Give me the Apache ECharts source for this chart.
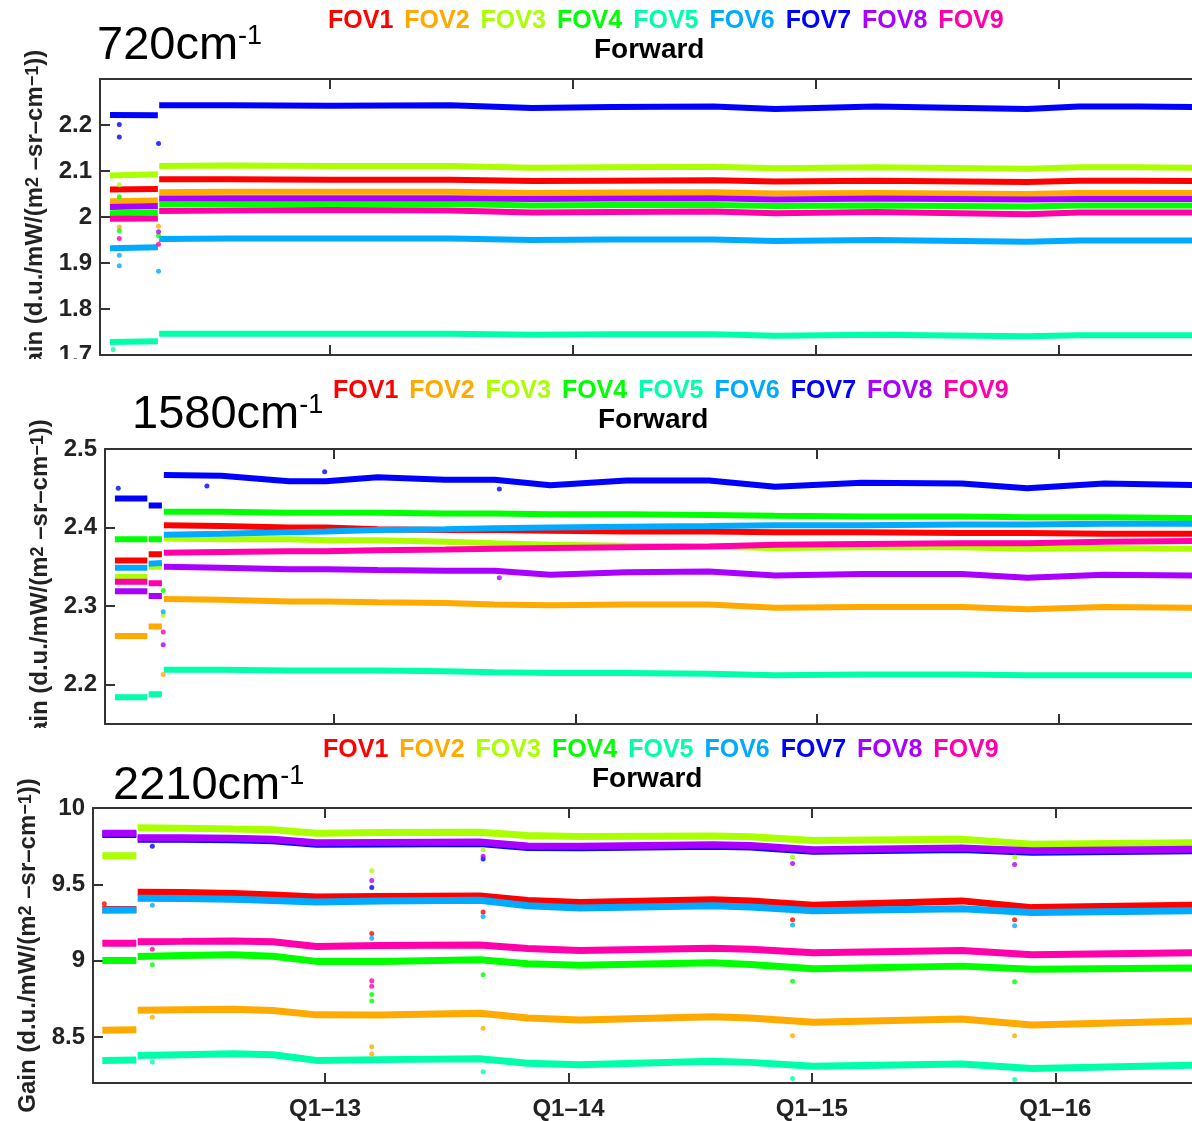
<!DOCTYPE html>
<html><head><meta charset="utf-8">
<script src="https://cdn.jsdelivr.net/npm/echarts@6/dist/echarts.min.js"></script>
<style>
html,body{margin:0;padding:0;background:#fff;width:1192px;height:1121px;overflow:hidden;}
.wrap{position:absolute;left:0;width:1192px;overflow:hidden;}
.chart{position:absolute;left:0;width:1192px;height:1121px;}
</style></head><body>
<div class="wrap" style="top:0;height:359px"><div id="c1" class="chart" style="top:0"></div></div>
<div class="wrap" style="top:359px;height:369px"><div id="c2" class="chart" style="top:-359px"></div></div>
<div class="wrap" style="top:728px;height:393px"><div id="c3" class="chart" style="top:-728px"></div></div>
<script>
const fovNames = ['FOV1','FOV2','FOV3','FOV4','FOV5','FOV6','FOV7','FOV8','FOV9'];
const fovColors = ['#ff0000','#ffaa00','#aaff00','#00ff00','#00ffaa','#00aaff','#0000ff','#aa00ff','#ff00aa'];
const xTickDates = ['2013-01-01','2014-01-01','2015-01-01','2016-01-01'];
const xTickLabels = ['Q1\u201313','Q1\u201314','Q1\u201315','Q1\u201316'];
const subTitle = 'Forward';
const yAxisTitle = 'Gain (d.u./mW/(m{s|2} \u2013sr\u2013cm{s|\u22121}))';

// ---- Panel 1 : 720 cm-1 ----
const p1Band = '720';
const p1YTicks = [1.7, 1.8, 1.9, 2, 2.1, 2.2];
const p1Dates = ['2012-02-05','2012-04-17','2012-04-18','2012-04-19','2012-08-01','2013-01-01','2013-07-01','2013-11-01','2014-03-01','2014-08-01','2014-11-01','2015-04-01','2015-11-15','2016-02-01','2016-05-01','2016-07-25'];
const p1Gain = [
  [2.060,2.061,null,2.082,2.082,2.081,2.081,2.078,2.079,2.080,2.077,2.079,2.076,2.079,2.079,2.078],
  [2.034,2.036,null,2.054,2.055,2.055,2.055,2.052,2.053,2.054,2.051,2.052,2.050,2.052,2.052,2.052],
  [2.090,2.093,null,2.111,2.112,2.111,2.111,2.107,2.108,2.109,2.106,2.108,2.105,2.108,2.108,2.107],
  [2.008,2.010,null,2.027,2.028,2.028,2.028,2.025,2.026,2.026,2.024,2.025,2.023,2.025,2.025,2.025],
  [1.728,1.730,null,1.746,1.746,1.746,1.746,1.744,1.745,1.745,1.742,1.744,1.741,1.743,1.743,1.743],
  [1.932,1.934,null,1.952,1.953,1.953,1.953,1.950,1.951,1.951,1.948,1.950,1.946,1.949,1.949,1.949],
  [2.222,2.221,null,2.243,2.243,2.242,2.243,2.237,2.239,2.240,2.235,2.240,2.235,2.240,2.240,2.239],
  [2.022,2.024,null,2.040,2.041,2.041,2.041,2.039,2.040,2.041,2.038,2.040,2.038,2.039,2.039,2.039],
  [1.996,1.997,null,2.013,2.014,2.015,2.014,2.010,2.011,2.012,2.008,2.011,2.006,2.010,2.010,2.010]
];
const p1Outliers = [
  ['2012-02-19',2.201,7],['2012-02-19',2.174,7],['2012-02-19',1.917,6],['2012-02-19',1.894,6],
  ['2012-02-19',2.070,3],['2012-02-19',2.044,4],['2012-02-19',1.978,2],['2012-02-19',1.970,4],
  ['2012-02-19',1.953,9],['2012-02-10',1.712,5],
  ['2012-04-18',2.160,7],['2012-04-18',1.882,6],['2012-04-18',1.980,2],['2012-04-18',1.968,8],
  ['2012-04-18',1.959,4],['2012-04-18',1.941,9]
];

// ---- Panel 2 : 1580 cm-1 ----
const p2Band = '1580';
const p2YTicks = [2.2, 2.3, 2.4, 2.5];
const p2Dates = ['2012-02-05','2012-03-25','2012-03-26','2012-03-27','2012-04-16','2012-04-17','2012-04-19','2012-07-15','2012-10-25','2012-12-20','2013-03-08','2013-06-18','2013-09-01','2013-11-24','2014-03-19','2014-07-22','2014-10-30','2015-03-10','2015-08-08','2015-11-15','2016-03-10','2016-07-25'];
const p2Gain = [
  [2.358,2.358,null,2.366,2.366,null,2.403,2.402,2.400,2.400,2.398,2.397,2.397,2.396,2.395,2.395,2.394,2.394,2.393,2.393,2.392,2.392],
  [2.262,2.262,null,2.274,2.274,null,2.309,2.308,2.306,2.306,2.305,2.304,2.302,2.301,2.302,2.302,2.298,2.299,2.299,2.296,2.299,2.298],
  [2.337,2.337,null,2.350,2.350,null,2.386,2.385,2.385,2.384,2.384,2.382,2.380,2.378,2.377,2.376,2.374,2.375,2.375,2.373,2.374,2.373],
  [2.385,2.385,null,2.385,2.385,null,2.420,2.420,2.419,2.419,2.419,2.418,2.418,2.417,2.417,2.416,2.415,2.414,2.414,2.413,2.413,2.412],
  [2.184,2.184,null,2.188,2.188,null,2.219,2.219,2.218,2.218,2.218,2.217,2.216,2.215,2.215,2.214,2.212,2.213,2.213,2.212,2.212,2.212],
  [2.349,2.349,null,2.354,2.355,null,2.391,2.392,2.394,2.395,2.397,2.398,2.399,2.400,2.401,2.402,2.403,2.403,2.404,2.404,2.405,2.405],
  [2.437,2.437,null,2.428,2.428,null,2.467,2.466,2.459,2.459,2.464,2.461,2.461,2.454,2.460,2.460,2.452,2.457,2.456,2.450,2.456,2.454],
  [2.319,2.319,null,2.313,2.313,null,2.350,2.349,2.347,2.347,2.346,2.345,2.345,2.340,2.343,2.344,2.339,2.341,2.341,2.336,2.340,2.339],
  [2.331,2.331,null,2.329,2.329,null,2.368,2.369,2.370,2.370,2.371,2.372,2.373,2.374,2.375,2.376,2.378,2.379,2.380,2.380,2.382,2.383]
];
const p2Outliers = [
  ['2012-02-10',2.450,7],['2012-04-18',2.320,4],['2012-04-18',2.293,6],['2012-04-18',2.288,3],
  ['2012-04-18',2.267,9],['2012-04-18',2.251,8],['2012-04-18',2.213,2],['2012-06-23',2.453,7],
  ['2012-12-18',2.471,7],['2013-09-08',2.449,7],['2013-09-08',2.336,8]
];

// ---- Panel 3 : 2210 cm-1 ----
const p3Band = '2210';
const p3YTicks = [8.5, 9, 9.5, 10];
const p3Dates = ['2012-02-02','2012-03-24','2012-03-25','2012-03-26','2012-06-01','2012-08-16','2012-10-15','2012-12-19','2013-03-24','2013-08-21','2013-11-01','2014-01-18','2014-08-05','2014-10-01','2015-01-03','2015-08-14','2015-11-27','2016-07-25'];
const p3Gain = [
  [9.335,9.335,null,9.449,9.447,9.440,9.430,9.417,9.420,9.424,9.395,9.382,9.400,9.392,9.364,9.392,9.348,9.364],
  [8.546,8.548,null,8.676,8.680,8.683,8.675,8.646,8.645,8.656,8.625,8.613,8.634,8.625,8.597,8.619,8.580,8.606],
  [9.687,9.687,null,9.870,9.868,9.862,9.858,9.834,9.840,9.842,9.820,9.814,9.816,9.812,9.788,9.795,9.762,9.773],
  [9.002,9.002,null,9.028,9.035,9.039,9.030,8.996,8.996,9.006,8.980,8.970,8.987,8.975,8.948,8.965,8.944,8.952],
  [8.348,8.350,null,8.380,8.385,8.391,8.385,8.348,8.353,8.358,8.330,8.320,8.342,8.335,8.310,8.325,8.295,8.317],
  [9.330,9.332,null,9.410,9.408,9.402,9.395,9.384,9.392,9.396,9.360,9.345,9.360,9.352,9.327,9.340,9.316,9.327],
  [9.826,9.826,null,9.796,9.796,9.792,9.785,9.763,9.765,9.768,9.742,9.739,9.750,9.745,9.717,9.728,9.710,9.720],
  [9.834,9.834,null,9.806,9.806,9.802,9.795,9.773,9.775,9.778,9.752,9.749,9.760,9.755,9.727,9.738,9.720,9.730],
  [9.114,9.114,null,9.125,9.127,9.130,9.125,9.093,9.100,9.104,9.080,9.067,9.082,9.075,9.052,9.067,9.039,9.052]
];
const p3Outliers = [
  ['2012-02-05',9.374,1],['2012-04-17',9.076,9],['2012-04-17',8.974,4],['2012-04-17',9.363,6],
  ['2012-04-17',9.750,7],['2012-04-17',8.337,5],['2012-04-17',8.630,2],
  ['2013-03-12',9.590,3],['2013-03-12',9.525,8],['2013-03-12',9.480,7],['2013-03-12',9.179,1],
  ['2013-03-12',9.147,6],['2013-03-12',8.870,9],['2013-03-12',8.834,9],['2013-03-12',8.780,4],
  ['2013-03-12',8.737,4],['2013-03-12',8.438,2],['2013-03-12',8.390,2],
  ['2013-08-26',9.727,3],['2013-08-26',9.684,8],['2013-08-26',9.667,7],['2013-08-26',9.320,1],
  ['2013-08-26',9.290,6],['2013-08-26',8.909,4],['2013-08-26',8.558,2],['2013-08-26',8.273,5],
  ['2014-12-03',9.680,3],['2014-12-03',9.636,8],['2014-12-03',9.268,1],['2014-12-03',9.234,6],
  ['2014-12-03',8.866,4],['2014-12-03',8.510,2],['2014-12-03',8.230,5],
  ['2015-11-01',9.680,3],['2015-11-01',9.630,8],['2015-11-01',9.268,1],['2015-11-01',9.230,6],
  ['2015-11-01',8.862,4],['2015-11-01',8.510,2],['2015-11-01',8.223,5]
];

const FONT = "'Liberation Sans', Arial, Helvetica, sans-serif";
const AXIS_COLOR = '#333';
function ts(d){ return Date.parse(d + 'T00:00:00Z'); }

function buildOption(p){
  const series = [];
  for (let i = 0; i < 9; i++) {
    series.push({
      type: 'line', name: fovNames[i],
      data: p.dates.map((d, k) => [ts(d), p.gain[i][k]]),
      symbol: 'none', showSymbol: false, connectNulls: false,
      lineStyle: { width: p.lw, color: fovColors[i] },
      itemStyle: { color: fovColors[i] },
      animation: false, silent: true, z: 2
    });
  }
  for (let i = 0; i < 9; i++) {
    const pts = p.outliers.filter(o => o[2] === i + 1).map(o => [ts(o[0]), o[1]]);
    if (pts.length) series.push({
      type: 'scatter', name: fovNames[i], data: pts, symbolSize: 5,
      itemStyle: { color: fovColors[i] }, animation: false, silent: true, z: 3
    });
  }
  const tickVals = xTickDates.map(ts);
  const xCommon = {
    type: 'value', min: ts(p.xMin), max: ts(p.xMax), gridIndex: 0,
    axisLine: { show: true, onZero: false, lineStyle: { color: AXIS_COLOR, width: 2 } },
    axisTick: { show: true, inside: true, length: 10, customValues: tickVals, lineStyle: { color: AXIS_COLOR, width: 2 } },
    splitLine: { show: false }
  };
  return {
    animation: false,
    backgroundColor: 'transparent',
    title: [
      { text: '{n|' + p.band + 'cm}{s|-1}', left: p.titleX, top: p.titleY, padding: 0,
        textStyle: { rich: {
          n: { fontSize: 47, fontFamily: FONT, color: '#000', fontWeight: 'normal' },
          s: { fontSize: 27, fontFamily: FONT, color: '#000', fontWeight: 'normal', verticalAlign: 'top' }
        } } },
      { text: subTitle, left: p.fwdX, top: p.fwdY, padding: 0,
        textStyle: { fontSize: 28, fontFamily: FONT, fontWeight: 'bold', color: '#000' } }
    ],
    legend: {
      data: fovNames.map((n, i) => ({ name: n, textStyle: { color: fovColors[i] } })),
      left: p.legX, top: p.legY, padding: 0, itemWidth: 0, itemHeight: 0, itemGap: 5,
      selectedMode: false,
      textStyle: { fontSize: 25, fontWeight: 'bold', fontFamily: FONT }
    },
    grid: { left: p.gridLeft, top: p.gridTop, height: p.gridH, right: 0, containLabel: false },
    xAxis: [
      Object.assign({}, xCommon, { position: 'bottom',
        axisLabel: { show: p.showX, customValues: tickVals, margin: 14,
          formatter: v => xTickLabels[tickVals.indexOf(v)] || '',
          fontSize: 24, fontWeight: 'bold', fontFamily: FONT, color: '#222' } }),
      Object.assign({}, xCommon, { position: 'top', axisLabel: { show: false } })
    ],
    yAxis: {
      type: 'value', min: p.yMin, max: p.yMax, position: 'left',
      axisLine: { show: true, lineStyle: { color: AXIS_COLOR, width: 2 } },
      axisTick: { show: true, inside: true, length: 10, customValues: p.yTicks, lineStyle: { color: AXIS_COLOR, width: 2 } },
      axisLabel: { customValues: p.yTicks, margin: 8, fontSize: 24, fontWeight: 'bold', fontFamily: FONT, color: '#222' },
      splitLine: { show: false },
      name: yAxisTitle, nameLocation: 'middle', nameRotate: 90, nameGap: p.nameGap,
      nameTextStyle: { fontSize: 24, fontWeight: 'bold', fontFamily: FONT, color: '#222',
        rich: { s: { fontSize: 18, fontWeight: 'bold', fontFamily: FONT, color: '#222', verticalAlign: 'top' } } }
    },
    series: series
  };
}

const panels = [
  { el: 'c1', band: p1Band, dates: p1Dates, gain: p1Gain, outliers: p1Outliers, yTicks: p1YTicks,
    yMin: 1.7, yMax: 2.3, xMin: '2012-01-21', xMax: '2016-07-20', gridLeft: 100, gridTop: 79, gridH: 276,
    lw: 6, showX: false, titleX: 97, titleY: 23, fwdX: 594, fwdY: 36, legX: 322, legY: 9, nameGap: 50 },
  { el: 'c2', band: p2Band, dates: p2Dates, gain: p2Gain, outliers: p2Outliers, yTicks: p2YTicks,
    yMin: 2.15, yMax: 2.5, xMin: '2012-01-21', xMax: '2016-07-21', gridLeft: 105, gridTop: 449, gridH: 275,
    lw: 6, showX: false, titleX: 132, titleY: 392, fwdX: 598, fwdY: 406, legX: 327, legY: 379, nameGap: 50 },
  { el: 'c3', band: p3Band, dates: p3Dates, gain: p3Gain, outliers: p3Outliers, yTicks: p3YTicks,
    yMin: 8.2, yMax: 10, xMin: '2012-01-19', xMax: '2016-07-24', gridLeft: 93, gridTop: 808, gridH: 277,
    lw: 7, showX: true, titleX: 113, titleY: 763, fwdX: 592, fwdY: 765, legX: 317, legY: 738, nameGap: 48 }
];
panels.forEach(p => {
  const chart = echarts.init(document.getElementById(p.el), null, { renderer: 'canvas', width: 1192, height: 1121 });
  chart.setOption(buildOption(p));
});
</script>
</body></html>
